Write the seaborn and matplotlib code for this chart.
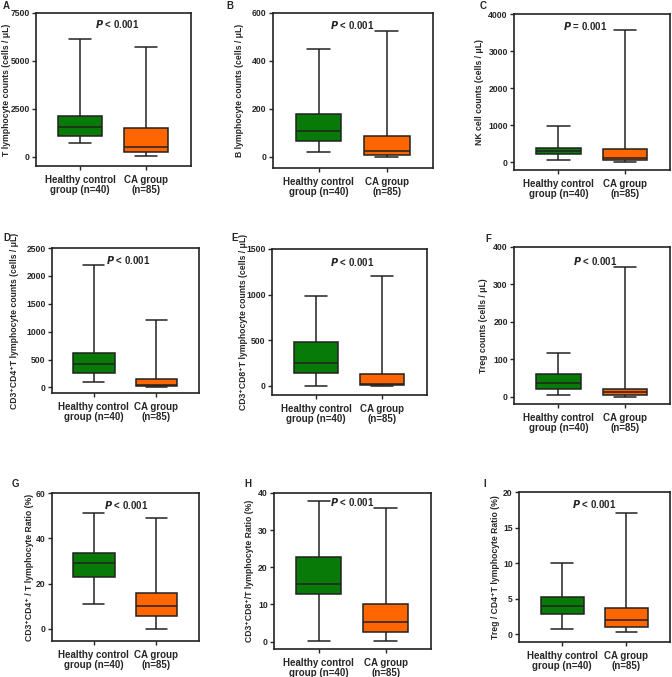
import matplotlib
matplotlib.use('Agg')
import matplotlib.pyplot as plt
import seaborn as sns
import pandas as pd

sns.set_style('white')
plt.rcParams['font.family'] = ['Liberation Sans', 'DejaVu Sans']
plt.rcParams['font.weight'] = 'bold'

# Group labels and colours
groups = ['Healthy control\ngroup (n=40)', 'CA group\n(n=85)']
box_colors = ['#077a07', '#ff6600']

# Five-number summaries: min, Q1, median, Q3, max
t_healthy = [730, 1110, 1580, 2150, 6150]
t_ca = [50, 280, 500, 1510, 5710]
b_healthy = [21, 65, 109, 181, 452]
b_ca = [0, 10, 23, 88, 524]
nk_healthy = [45, 207, 288, 369, 964]
nk_ca = [0, 45, 108, 342, 3577]
cd4_healthy = [100, 257, 419, 616, 2195]
cd4_ca = [0, 18, 40, 155, 1202]
cd8_healthy = [0, 143, 246, 480, 986]
cd8_ca = [0, 15, 26, 125, 1206]
treg_healthy = [6, 21, 36, 60, 118]
treg_ca = [0, 4, 12, 21, 347]
cd4r_healthy = [11.2, 22.9, 28.9, 33.5, 51.2]
cd4r_ca = [0, 5.8, 10.0, 15.8, 49.1]
cd8r_healthy = [0.2, 12.7, 15.6, 22.7, 37.9]
cd8r_ca = [0.1, 2.7, 5.2, 10.1, 36.0]
tregr_healthy = [0.75, 2.8, 3.9, 5.3, 10.0]
tregr_ca = [0.25, 1.0, 2.06, 3.65, 17.1]

# Panel titles, y labels, y limits, ticks, p-values
letters = ['A', 'B', 'C', 'D', 'E', 'F', 'G', 'H', 'I']
ylabels = [
    'T lymphocyte counts (cells / μL)',
    'B lymphocyte counts (cells / μL)',
    'NK cell counts (cells / μL)',
    'CD3⁺CD4⁺T lymphocyte counts (cells / μL)',
    'CD3⁺CD8⁺T lymphocyte counts (cells / μL)',
    'Treg counts (cells / μL)',
    'CD3⁺CD4⁺ / T lymphocyte Ratio (%)',
    'CD3⁺CD8⁺/T lymphocyte Ratio (%)',
    'Treg / CD4⁺T lymphocyte Ratio (%)',
]
yticks = [
    [0, 2500, 5000, 7500], [0, 200, 400, 600], [0, 1000, 2000, 3000, 4000],
    [0, 500, 1000, 1500, 2000, 2500], [0, 500, 1000, 1500], [0, 100, 200, 300, 400],
    [0, 20, 40, 60], [0, 10, 20, 30, 40], [0, 5, 10, 15, 20],
]
ylims = [(-470, 7500), (-46, 600), (-216, 4000), (-100, 2500), (-100, 1500),
         (-19, 400), (-5.3, 60), (-2, 40), (-1.1, 20)]
pvals = ['< 0.001', '< 0.001', '= 0.001', '< 0.001', '< 0.001', '< 0.001',
         '< 0.001', '< 0.001', '< 0.001']
# p-label position: x in data units, y as fraction of the axes height
p_x = [0.56, 0.49, 0.4, 0.54, 0.55, 0.55, 0.51, 0.5, 0.5]
p_y = [0.93, 0.92, 0.92, 0.92, 0.91, 0.91, 0.92, 0.94, 0.92]

data = [
    (t_healthy, t_ca), (b_healthy, b_ca), (nk_healthy, nk_ca),
    (cd4_healthy, cd4_ca), (cd8_healthy, cd8_ca), (treg_healthy, treg_ca),
    (cd4r_healthy, cd4r_ca), (cd8r_healthy, cd8r_ca), (tregr_healthy, tregr_ca),
]

# Axes boxes in pixels: left, right, top, bottom
W, H = 672, 677
boxes_px = [
    (36, 191, 13, 166), (273, 433, 13, 168), (514, 670, 14, 170),
    (52, 199, 248, 393), (272, 427, 249, 395), (514, 670, 247, 404),
    (52, 199, 493, 641), (274, 431, 493, 649), (519, 670, 492, 642),
]
# centre of the y label, pixels left of the axes
ylab_off = [29, 34, 34, 37, 29, 31, 23, 25, 24]
letter_px = [(3, 6), (226, 6), (480, 6), (3, 238), (231, 238), (485, 239),
             (12, 484), (244, 484), (483, 484)]

fig = plt.figure(figsize=(W / 100, H / 100), dpi=100)

for i in range(9):
    l, r, t, b = boxes_px[i]
    ax = fig.add_axes([l / W, 1 - b / H, (r - l) / W, (b - t) / H])
    healthy, ca = data[i]
    df = pd.DataFrame({
        'group': [groups[0]] * len(healthy) + [groups[1]] * len(ca),
        'value': healthy + ca,
    })
    sns.boxplot(data=df, x='group', y='value', hue='group', palette=box_colors,
                order=groups, whis=(0, 100), width=0.67, showfliers=False,
                saturation=1, linewidth=1.1, linecolor='#222222', legend=False, ax=ax)
    ax.set_xlim(-0.67, 1.68)
    ax.set_ylim(*ylims[i])
    ax.set_yticks(yticks[i])
    ax.set_xlabel('')
    ax.set_ylabel(ylabels[i], fontsize=6.2, fontweight='bold')
    ax.yaxis.label.set_va('center')
    ax.yaxis.set_label_coords(-ylab_off[i] / (r - l), 0.5)
    ax.tick_params(axis='both', which='both', direction='out', length=3, width=1,
                   left=True, bottom=True)
    ax.tick_params(axis='x', labelsize=7, pad=3.5)
    ax.tick_params(axis='y', labelsize=6.2, pad=1.5)
    for lab in ax.get_xticklabels():
        lab.set_fontweight('bold')
        lab.set_linespacing(1.0)
    for lab in ax.get_yticklabels():
        lab.set_fontweight('bold')
    for sp in ax.spines.values():
        sp.set_visible(True)
        sp.set_color('#222222')
        sp.set_linewidth(1.2)
    ax.text(p_x[i], p_y[i], r'$\mathbfit{P}$ ' + pvals[i], transform=ax.get_xaxis_transform(),
            ha='center', va='center', fontsize=7, fontweight='bold')
    fig.text(letter_px[i][0] / W, 1 - letter_px[i][1] / H, letters[i],
             fontsize=7, fontweight='bold', ha='left', va='center')

fig.savefig('out.png', dpi=100)
